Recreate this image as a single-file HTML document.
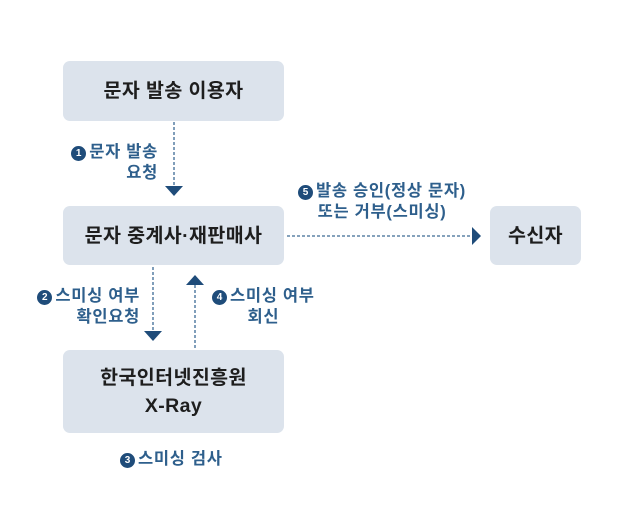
<!DOCTYPE html>
<html><head><meta charset="utf-8"><style>
body{margin:0;width:640px;height:510px;background:#fff;position:relative;font-family:"Liberation Sans","Noto Sans CJK KR",sans-serif;overflow:hidden}
.b{position:absolute;background:#dce3ec;border-radius:7px;display:flex;align-items:center;justify-content:center;text-align:center;color:#1e1e1e;font-size:19.5px;letter-spacing:0.4px;line-height:28px;font-weight:600}
.l{position:absolute;color:#2e5f8c;font-size:16.5px;letter-spacing:0.7px;line-height:21px;font-weight:600;white-space:nowrap}
.n{display:inline-block;width:15px;height:15px;border-radius:50%;background:#1f4c7a;color:#fff;font-size:10px;letter-spacing:0;line-height:15px;text-align:center;font-weight:bold;vertical-align:1px;margin-right:3px}
</style></head><body>
<div class="b" style="left:63px;top:61px;width:221px;height:60px">문자 발송 이용자</div>
<div class="b" style="left:63px;top:206px;width:221px;height:59px">문자 중계사·재판매사</div>
<div class="b" style="left:490px;top:206px;width:91px;height:59px">수신자</div>
<div class="b" style="left:63px;top:350px;width:221px;height:83px">한국인터넷진흥원<br>X-Ray</div>
<svg width="640" height="510" style="position:absolute;left:0;top:0">
<g stroke="#3c6a94" stroke-width="1.3" stroke-dasharray="3,2" fill="none">
<line x1="174" y1="122" x2="174" y2="186"/>
<line x1="153" y1="267" x2="153" y2="331"/>
<line x1="195" y1="348" x2="195" y2="285"/>
<line x1="287" y1="236" x2="472" y2="236"/>
</g>
<g fill="#1f4c7a">
<polygon points="165,186 183,186 174,196"/>
<polygon points="144,331 162,331 153,341"/>
<polygon points="186,285 204,285 195,275"/>
<polygon points="472,227 472,245 481,236"/>
</g></svg>
<div class="l" style="right:482px;top:142px;text-align:right"><span class="n">1</span>문자 발송<br>요청</div>
<div class="l" style="right:500px;top:286px;text-align:right"><span class="n">2</span>스미싱 여부<br>확인요청</div>
<div class="l" style="left:212px;top:286px;text-align:center"><span class="n">4</span>스미싱 여부<br>회신</div>
<div class="l" style="left:288px;top:181px;width:188px;text-align:center"><span class="n">5</span>발송 승인(정상 문자)<br>또는 거부(스미싱)</div>
<div class="l" style="left:120px;top:449px"><span class="n">3</span>스미싱 검사</div>
</body></html>
